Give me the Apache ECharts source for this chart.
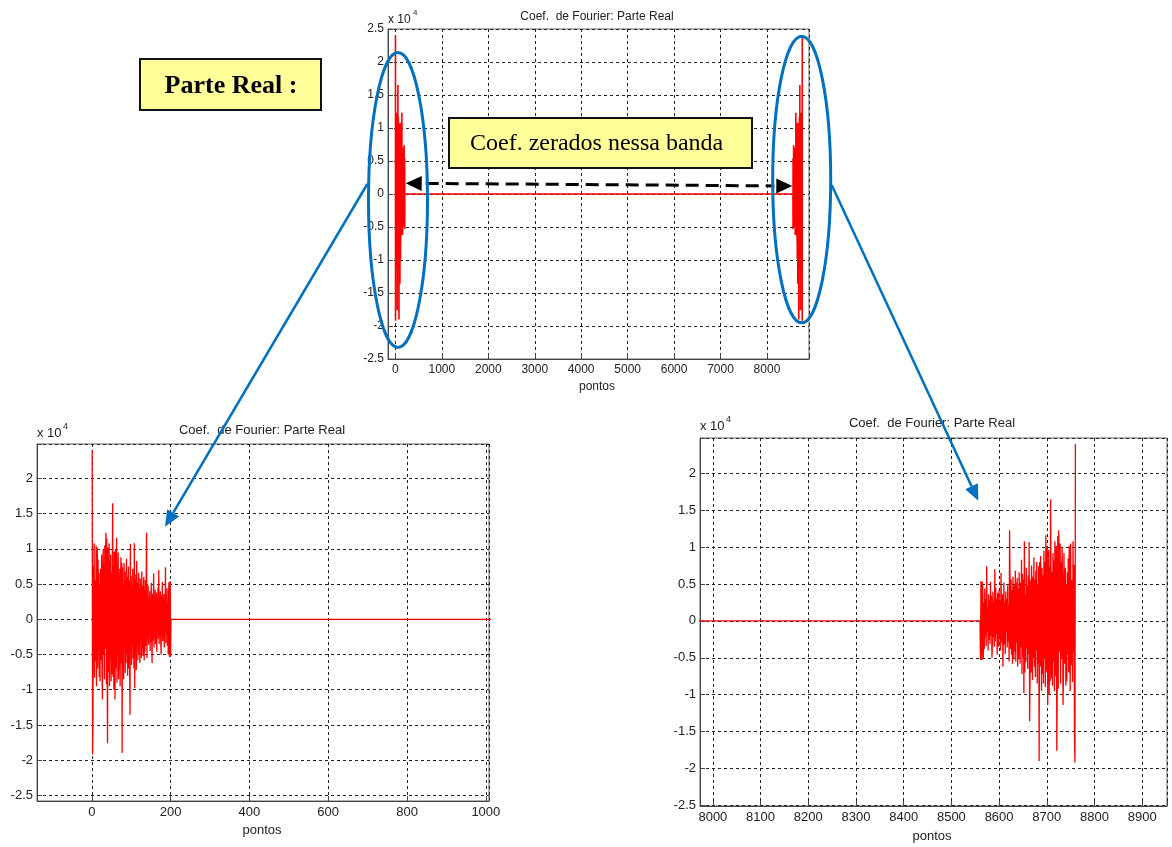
<!DOCTYPE html>
<html><head><meta charset="utf-8">
<script src="https://cdn.jsdelivr.net/npm/echarts@6/dist/echarts.min.js"></script>
<style>html,body{margin:0;padding:0;background:#fff}#c{width:1172px;height:847px}</style>
</head><body><div id="c"></div>
<script>
// Real part of Fourier coefficients (units of 10^4), points 1..200 (non-zeroed band)
const bandValues = [
 2.40,-1.92,-1.50, 0.76,-0.42, 1.08,-0.83, 0.55, 0.12,-0.60,
 1.05,-0.95, 0.55, 1.02,-0.70, 0.85,-0.45, 0.66,-0.82, 0.48,
-0.88, 0.72, 0.25,-0.58, 0.92,-0.74,-1.14, 0.62, 1.00,-0.50,
 0.80,-0.85, 1.05,-0.42, 0.88, 1.23,-0.92, 1.15,-0.66,-1.76,
 1.02,-0.75, 0.52, 1.08,-0.95, 0.82,-0.55, 0.92,-0.88, 0.66,
-0.78, 0.42, 1.65,-0.82, 0.74,-1.00, 0.96, 0.30,-1.14, 1.00,
-0.70, 0.55, 1.16,-0.90, 0.80,-0.50, 0.95,-0.85, 0.62,-0.72,
 0.72,-0.95, 0.50, 0.88,-0.62, 0.80,-1.90, 0.74,-0.58, 0.50,
-0.85, 0.80,-0.40, 0.68,-0.76, 0.56,-0.62, 0.86,-0.50, 0.60,
-0.80, 0.45, 0.75,-0.70, 0.55,-0.65,-1.36, 1.07,-0.45, 0.62,
-0.65, 0.48,-0.38, 0.72,-0.56, 0.36,-0.70, 1.08,-0.98, 0.56,
-0.50, 0.64,-0.72, 0.83,-0.36, 0.52,-0.58, 0.38, 0.66,-0.50,
 0.44,-0.62, 0.58,-0.30, 0.52,-0.55, 0.68,-0.42, 0.48,-0.52,
 0.32, 0.60,-0.58, 0.42,-0.46, 0.56,-0.38, 0.50, 1.23,-0.55,
 0.22,-0.28, 0.48,-0.36, 0.30,-0.15, 0.40,-0.45, 0.25,-0.32,
 0.52,-0.22,-0.62, 0.36,-0.30, 0.20, 0.65,-0.40, 0.28,-0.25,
 0.42,-0.35, 0.18, 0.38,-0.46, 0.30,-0.18, 0.45,-0.28, 0.70,
-0.35, 0.26,-0.22, 0.40,-0.30,-0.50, 0.34,-0.20, 0.53,-0.31,
 0.28,-0.26, 0.36,-0.40, 0.20,-0.15, 0.74,-0.34, 0.30,-0.22,
 0.44,-0.38, 0.25,-0.50, 0.38, 0.53,-0.53, 0.32, 0.54,-0.53
];
const signalLength = 8760;          // total number of points
const panelTitle = 'Coef.  de Fourier: Parte Real';
const xLabelText = 'pontos';
const topXTicks = [0,1000,2000,3000,4000,5000,6000,7000,8000];
const leftXTicks = [0,200,400,600,800,1000];
const rightXTicks = [8000,8100,8200,8300,8400,8500,8600,8700,8800,8900];
const yTicks = [-2.5,-2,-1.5,-1,-0.5,0,0.5,1,1.5,2,2.5];
const bigLabel = 'Parte Real :';
const bandLabel = 'Coef. zerados nessa banda';

// Build full signal: band, zeroed region, conjugate-symmetric mirrored band
const signal = [];
bandValues.forEach((v, i) => signal.push([i + 1, v]));
signal.push([bandValues.length + 1, 0]);
signal.push([signalLength - bandValues.length, 0]);
for (let i = bandValues.length - 1; i >= 0; i--) signal.push([signalLength - i, bandValues[i]]);

const FONT = '"Liberation Sans", Arial, sans-serif';
const SERIF = '"Liberation Serif", "Times New Roman", serif';
const TXT = '#222';

function fmt(list) {
  return v => list.some(t => Math.abs(t - v) < 1e-6) ? String(Math.round(v * 100) / 100) : '';
}
function xAxis(gi, min, max, step, ticks, fs) {
  return {
    type: 'value', gridIndex: gi, min: min, max: max, minInterval: step, maxInterval: step,
    axisLine: {show: true, onZero: false, lineStyle: {color: '#444', width: 1}},
    axisTick: {show: true, inside: true, length: 5, lineStyle: {color: '#444'}},
    axisLabel: {formatter: fmt(ticks), color: TXT, fontFamily: FONT, fontSize: fs, margin: 5},
    splitLine: {show: true, lineStyle: {color: '#222', type: [3, 3], width: 1}}
  };
}
function yAxis(gi, min, max, fs) {
  return {
    type: 'value', gridIndex: gi, min: min, max: max, minInterval: 0.5, maxInterval: 0.5,
    axisLine: {show: true, onZero: false, lineStyle: {color: '#444', width: 1}},
    axisTick: {show: true, inside: true, length: 5, lineStyle: {color: '#444'}},
    axisLabel: {formatter: fmt(yTicks), color: TXT, fontFamily: FONT, fontSize: fs, margin: 4},
    splitLine: {show: true, lineStyle: {color: '#222', type: [3, 3], width: 1}}
  };
}
function series(i, w) {
  return {
    type: 'line', xAxisIndex: i, yAxisIndex: i, data: signal, showSymbol: false, symbol: 'none',
    lineStyle: {color: '#ff0000', width: w}, clip: true, silent: true, z: 3
  };
}
function text(x, y, t, font, align, color) {
  return {type: 'text', z: 100, style: {x: x, y: y, text: t, font: font, fill: color || TXT,
    textAlign: align || 'center', textVerticalAlign: 'middle'}};
}
function headPts(tx, ty, fx, fy, len, hw) {
  const dx = tx - fx, dy = ty - fy, L = Math.hypot(dx, dy), ux = dx / L, uy = dy / L;
  const bx = tx - ux * len, by = ty - uy * len;
  return {pts: [[tx, ty], [bx - uy * hw, by + ux * hw], [bx + uy * hw, by - ux * hw]], base: [bx, by]};
}
function arrow(fx, fy, tx, ty, color, width, len, hw) {
  const h = headPts(tx, ty, fx, fy, len, hw);
  return [
    {type: 'line', z: 100, shape: {x1: fx, y1: fy, x2: h.base[0], y2: h.base[1]},
      style: {stroke: color, lineWidth: width}},
    {type: 'polygon', z: 100, shape: {points: h.pts}, style: {fill: color}}
  ];
}

const graphics = [];
// titles, x labels, exponent labels
graphics.push(text(597, 17, panelTitle, '12px ' + FONT));
graphics.push(text(262, 430, panelTitle, '13px ' + FONT));
graphics.push(text(932, 423, panelTitle, '13px ' + FONT));
graphics.push(text(597, 387, xLabelText, '12px ' + FONT));
graphics.push(text(262, 830, xLabelText, '13px ' + FONT));
graphics.push(text(932, 836, xLabelText, '13px ' + FONT));
graphics.push(text(388, 20, 'x 10', '12px ' + FONT, 'left'));
graphics.push(text(413, 13, '4', '8px ' + FONT, 'left'));
graphics.push(text(37, 433, 'x 10', '13px ' + FONT, 'left'));
graphics.push(text(63, 427, '4', '9px ' + FONT, 'left'));
graphics.push(text(700, 426, 'x 10', '13px ' + FONT, 'left'));
graphics.push(text(726, 420, '4', '9px ' + FONT, 'left'));
// Parte Real box
graphics.push({type: 'rect', z: 100, shape: {x: 140, y: 59, width: 181, height: 51},
  style: {fill: '#FFFF99', stroke: '#111', lineWidth: 2}});
graphics.push(text(231, 86, bigLabel, 'bold 26px ' + SERIF, 'center', '#000'));
// Coef. zerados box
graphics.push({type: 'rect', z: 100, shape: {x: 449, y: 118, width: 303, height: 50},
  style: {fill: '#FFFF99', stroke: '#111', lineWidth: 2}});
graphics.push(text(470, 144, bandLabel, '24px ' + SERIF, 'left', '#000'));
// dashed double arrow
(function () {
  const lx = 405.7, ly = 183.3, rx = 792.3, ry = 186;
  const hl = headPts(lx, ly, rx, ry, 16, 7.5), hr = headPts(rx, ry, lx, ly, 16, 7.5);
  graphics.push({type: 'line', z: 100, shape: {x1: hl.base[0] + 4, y1: hl.base[1], x2: hr.base[0] - 2, y2: hr.base[1]},
    style: {stroke: '#000', lineWidth: 3, lineDash: [13, 7]}});
  graphics.push({type: 'polygon', z: 100, shape: {points: hl.pts}, style: {fill: '#000'}});
  graphics.push({type: 'polygon', z: 100, shape: {points: hr.pts}, style: {fill: '#000'}});
})();
// blue ellipses
const BLUE = '#0070C0';
graphics.push({type: 'ellipse', z: 101, shape: {cx: 398, cy: 200, rx: 29.5, ry: 147.5},
  style: {fill: null, stroke: BLUE, lineWidth: 3}});
graphics.push({type: 'ellipse', z: 101, shape: {cx: 801.7, cy: 179.5, rx: 29, ry: 143.3},
  style: {fill: null, stroke: BLUE, lineWidth: 3}});
// blue zoom arrows
arrow(367.3, 184, 165, 526.7, BLUE, 2.5, 16, 7).forEach(e => graphics.push(e));
arrow(831.7, 185, 978.3, 500.7, BLUE, 2.5, 16, 7).forEach(e => graphics.push(e));

const chart = echarts.init(document.getElementById('c'), null, {renderer: 'canvas'});
chart.setOption({
  backgroundColor: '#ffffff',
  animation: false,
  grid: [
    {left: 388, top: 29, width: 421, height: 330, show: true, borderColor: '#666', borderWidth: 1, backgroundColor: 'transparent'},
    {left: 37, top: 444, width: 452, height: 357, show: true, borderColor: '#666', borderWidth: 1, backgroundColor: 'transparent'},
    {left: 700, top: 438, width: 467, height: 368, show: true, borderColor: '#666', borderWidth: 1, backgroundColor: 'transparent'}
  ],
  xAxis: [
    xAxis(0, -160, 8905, 1000, topXTicks, 12),
    xAxis(1, -139, 1008, 200, leftXTicks, 13),
    xAxis(2, 7973, 8952, 100, rightXTicks, 13)
  ],
  yAxis: [
    yAxis(0, -2.5, 2.5, 12),
    yAxis(1, -2.58, 2.49, 13),
    yAxis(2, -2.51, 2.48, 13)
  ],
  series: [series(0, 1.6), series(1, 1.3), series(2, 1.3)],
  graphic: {elements: graphics}
});
</script></body></html>
